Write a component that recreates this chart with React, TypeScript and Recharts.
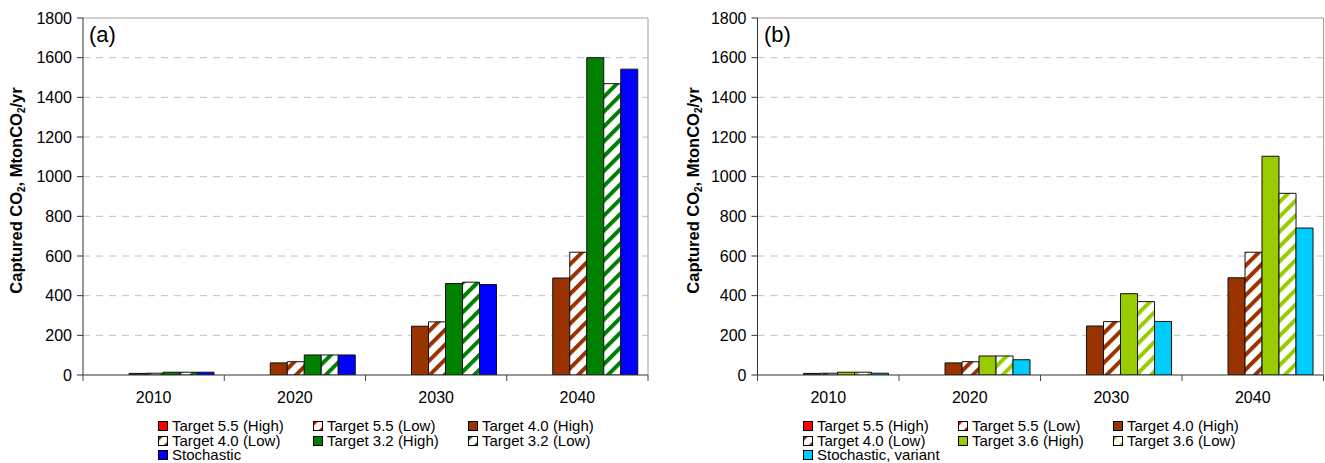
import React from 'react';
import { BarChart, Bar, XAxis, YAxis, CartesianGrid } from 'recharts';

const categories = ['2010', '2020', '2030', '2040'];
const yTicks = [0, 200, 400, 600, 800, 1000, 1200, 1400, 1600, 1800];
const gridValues = [200, 400, 600, 800, 1000, 1200, 1400, 1600];

// Panel (a)
const aT55High = [0, 0, 0, 0];
const aT55Low = [0, 0, 0, 0];
const aT40High = [8, 61, 246, 489];
const aT40Low = [9, 67, 268, 619];
const aT32High = [14, 101, 461, 1600];
const aT32Low = [14, 101, 468, 1469];
const aStochastic = [14, 101, 456, 1542];

// Panel (b)
const bT55High = [0, 0, 0, 0];
const bT55Low = [0, 0, 0, 0];
const bT40High = [8, 61, 247, 490];
const bT40Low = [9, 67, 269, 619];
const bT36High = [14, 96, 410, 1103];
const bT36Low = [14, 96, 370, 916];
const bStochVariant = [9, 77, 270, 741];

const FONT = '"Liberation Sans", Arial, Helvetica, sans-serif';

type Series = { key: string; name: string; fill: string };

const seriesA: Series[] = [
  { key: 's1', name: 'Target 5.5 (High)', fill: '#ff0000' },
  { key: 's2', name: 'Target 5.5 (Low)', fill: 'url(#hRed)' },
  { key: 's3', name: 'Target 4.0 (High)', fill: '#993300' },
  { key: 's4', name: 'Target 4.0 (Low)', fill: 'url(#hBrown)' },
  { key: 's5', name: 'Target 3.2 (High)', fill: '#008000' },
  { key: 's6', name: 'Target 3.2 (Low)', fill: 'url(#hGreen)' },
  { key: 's7', name: 'Stochastic', fill: '#0000ff' },
];
const seriesB: Series[] = [
  { key: 's1', name: 'Target 5.5 (High)', fill: '#ff0000' },
  { key: 's2', name: 'Target 5.5 (Low)', fill: 'url(#hRed)' },
  { key: 's3', name: 'Target 4.0 (High)', fill: '#993300' },
  { key: 's4', name: 'Target 4.0 (Low)', fill: 'url(#hBrown)' },
  { key: 's5', name: 'Target 3.6 (High)', fill: '#99cc00' },
  { key: 's6', name: 'Target 3.6 (Low)', fill: 'url(#hLime)' },
  { key: 's7', name: 'Stochastic, variant', fill: '#00ccff' },
];

const dataA = categories.map((c, i) => ({
  cat: c, s1: aT55High[i], s2: aT55Low[i], s3: aT40High[i], s4: aT40Low[i],
  s5: aT32High[i], s6: aT32Low[i], s7: aStochastic[i],
}));
const dataB = categories.map((c, i) => ({
  cat: c, s1: bT55High[i], s2: bT55Low[i], s3: bT40High[i], s4: bT40Low[i],
  s5: bT36High[i], s6: bT36Low[i], s7: bStochVariant[i],
}));

const Hatch = ({ id, color }: { id: string; color: string }) => (
  <pattern id={id} patternUnits="userSpaceOnUse" width="10.5" height="10.5" patternTransform="rotate(45)">
    <rect width="10.5" height="10.5" fill="#ffffff" />
    <rect width="4" height="10.5" fill={color} />
  </pattern>
);

const XTick = (props: any) => {
  const { x, y, payload, index, visibleTicksCount } = props;
  const off = payload.offset || 0;
  return (
    <g>
      <line x1={x - off} y1={y} x2={x - off} y2={y + 6} stroke="#444" strokeWidth={1} />
      {index === visibleTicksCount - 1 && (
        <line x1={x + off} y1={y} x2={x + off} y2={y + 6} stroke="#444" strokeWidth={1} />
      )}
      <text x={x} y={y + 28} textAnchor="middle" fontSize={16} fontFamily={FONT} fill="#000">
        {payload.value}
      </text>
    </g>
  );
};

const makeYLabel = (dx: number) => (props: any) => {
  const vb = props.viewBox || {};
  const cx = (vb.x || 0) + dx;
  const cy = (vb.y || 0) + (vb.height || 0) / 2 - 6;
  return (
    <text
      x={cx}
      y={cy}
      transform={`rotate(-90, ${cx}, ${cy})`}
      textAnchor="middle"
      dominantBaseline="central"
      fontSize={16.5}
      fontWeight="bold"
      fontFamily={FONT}
      fill="#000"
    >
      <tspan>Captured CO</tspan>
      <tspan dy={5} fontSize={10}>2</tspan>
      <tspan dy={-5}>, MtonCO</tspan>
      <tspan dy={5} fontSize={10}>2</tspan>
      <tspan dy={-5}>/yr</tspan>
    </text>
  );
};

const Panel = ({
  data, series, left, width, axisWidth, marginRight, labelDx,
}: {
  data: any[]; series: Series[]; left: number; width: number; axisWidth: number; marginRight: number; labelDx: number;
}) => (
  <div style={{ position: 'absolute', left, top: 0 }}>
    <BarChart
      width={width}
      height={463}
      data={data}
      margin={{ top: 17, right: marginRight, left: 0, bottom: 58 }}
      barCategoryGap="8.5%"
      barGap={0}
    >
      <CartesianGrid vertical={false} horizontalValues={gridValues} stroke="#c0c0c0" strokeDasharray="7 6" />
      <XAxis
        dataKey="cat"
        height={30}
        tickLine={false}
        tickSize={0}
        tickMargin={0}
        axisLine={{ stroke: '#333' }}
        tick={<XTick />}
        interval={0}
      />
      <XAxis
        xAxisId="top"
        dataKey="cat"
        orientation="top"
        height={1}
        tick={false}
        tickLine={false}
        axisLine={{ stroke: '#a0a0a0' }}
      />
      <YAxis
        width={axisWidth}
        domain={[0, 1800]}
        ticks={yTicks}
        interval={0}
        allowDataOverflow
        tickSize={6}
        tickMargin={5}
        axisLine={{ stroke: '#333' }}
        tickLine={{ stroke: '#333' }}
        tick={{ fill: '#000', fontSize: 16, fontFamily: FONT }}
        label={{ content: makeYLabel(labelDx) }}
      />
      <YAxis
        yAxisId="r"
        orientation="right"
        width={1}
        domain={[0, 1800]}
        tick={false}
        tickLine={false}
        axisLine={{ stroke: '#a0a0a0' }}
      />
      {series.map((s) => (
        <Bar
          key={s.key}
          dataKey={s.key}
          name={s.name}
          fill={s.fill}
          stroke="#111"
          strokeWidth={1}
          isAnimationActive={false}
        />
      ))}
    </BarChart>
  </div>
);

const Legend = ({ series, left }: { series: Series[]; left: number }) => (
  <div style={{ position: 'absolute', left, top: 419, fontFamily: FONT, fontSize: 15, color: '#000' }}>
    {series.map((s, i) => (
      <div
        key={s.key}
        style={{
          position: 'absolute',
          left: (i % 3) * 155,
          top: Math.floor(i / 3) * 14.5,
          whiteSpace: 'nowrap',
          display: 'flex',
          alignItems: 'center',
          height: 14,
        }}
      >
        <svg width={10} height={10} style={{ marginRight: 4 }}>
          <rect x={0.5} y={0.5} width={9} height={9} fill={s.fill} stroke="#000" strokeWidth={1} />
        </svg>
        <span style={{ lineHeight: '14px' }}>{s.name}</span>
      </div>
    ))}
  </div>
);

export default function App() {
  return (
    <div style={{ position: 'absolute', left: 0, top: 0, width: 1325, height: 463, background: '#fff', overflow: 'hidden' }}>
      <svg width={0} height={0} style={{ position: 'absolute' }}>
        <defs>
          <Hatch id="hRed" color="#ff0000" />
          <Hatch id="hBrown" color="#993300" />
          <Hatch id="hGreen" color="#008000" />
          <Hatch id="hLime" color="#99cc00" />
        </defs>
      </svg>
      <Panel data={dataA} series={seriesA} left={0} width={660} axisWidth={83} marginRight={11} labelDx={16} />
      <Panel data={dataB} series={seriesB} left={662} width={663} axisWidth={95.5} marginRight={0.5} labelDx={31} />
      <div style={{ position: 'absolute', left: 89, top: 22, fontFamily: FONT, fontSize: 22 }}>(a)</div>
      <div style={{ position: 'absolute', left: 764, top: 22, fontFamily: FONT, fontSize: 22 }}>(b)</div>
      <Legend series={seriesA} left={158} />
      <Legend series={seriesB} left={803} />
    </div>
  );
}
